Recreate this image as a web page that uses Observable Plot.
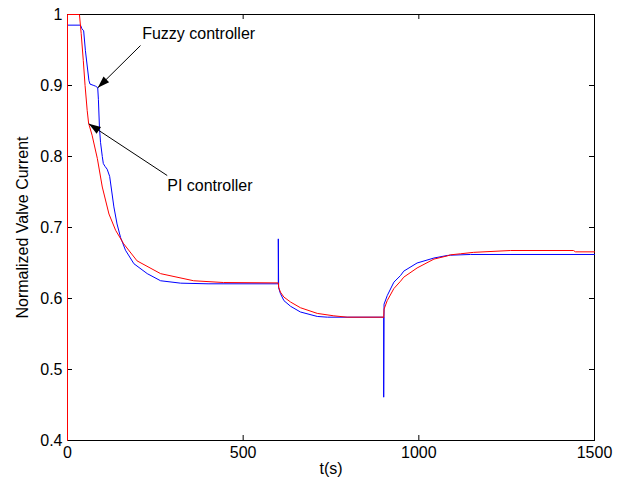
<!DOCTYPE html>
<html><head><meta charset="utf-8">
<script src="https://cdn.jsdelivr.net/npm/d3@7"></script>
<script src="https://cdn.jsdelivr.net/npm/@observablehq/plot@0.6"></script>
<style>body{margin:0;background:#fff;}</style>
</head><body><div id="chart"></div>
<script>
// PI controller (red)
const piT = [0, 0, 34, 39, 45, 50, 56, 60, 70, 85, 99, 118, 137, 160, 198, 265, 359, 444, 599,
  600, 601, 606, 616, 635, 663, 711, 758, 796, 900,
  900, 901, 910, 929, 948, 957, 995, 1043, 1081, 1090, 1119, 1156, 1261, 1440, 1446, 1500];
const piV = [0.4, 1.0, 1.0, 0.973, 0.935, 0.9, 0.865, 0.847, 0.83, 0.797, 0.757, 0.719, 0.696, 0.677, 0.653, 0.635, 0.625, 0.6225, 0.622,
  0.622, 0.616, 0.609, 0.602, 0.595, 0.587, 0.579, 0.5756, 0.5737, 0.5737,
  0.573, 0.585, 0.597, 0.614, 0.6244, 0.63, 0.643, 0.6555, 0.66, 0.6615, 0.663, 0.665, 0.6676, 0.6676, 0.6657, 0.6657];
// Fuzzy controller (blue)
const fuzzyT = [0, 37, 41, 46, 51, 61, 64, 75, 80, 86, 88, 91, 94, 99, 102, 107, 113, 120, 132, 141, 151, 165, 189, 227, 265, 322, 400, 599,
  600, 600, 601, 606, 616, 635, 663, 711, 740, 900,
  900, 901, 910, 929, 948, 957, 995, 1043, 1081, 1090, 1147, 1500];
const fuzzyV = [0.985, 0.985, 0.98, 0.977, 0.949, 0.907, 0.902, 0.9, 0.899, 0.897, 0.88, 0.84, 0.82, 0.8, 0.79, 0.786, 0.782, 0.772, 0.729, 0.705, 0.686, 0.668, 0.649, 0.635, 0.625, 0.6216, 0.6207, 0.6207,
  0.6207, 0.684, 0.615, 0.607, 0.597, 0.589, 0.581, 0.5747, 0.5737, 0.5737,
  0.461, 0.592, 0.604, 0.623, 0.6324, 0.6385, 0.650, 0.657, 0.6606, 0.661, 0.662, 0.662];

const xTicks = [0, 500, 1000, 1500];
const yTicks = [0.4, 0.5, 0.6, 0.7, 0.8, 0.9, 1];
const xLabel = "t(s)";
const yLabel = "Normalized Valve Current";

// annotations: label position, arrow tail, arrow tip (data units)
const annLabels = ["Fuzzy controller", "PI controller"];
const annTextT = [212.6, 283.8];
const annTextV = [0.9728, 0.759];
const annTailT = [207.8, 283.8];
const annTailV = [0.9563, 0.7732];
const annTipT = [86.2, 60.6];
const annTipV = [0.8968, 0.846];

const W = 622, H = 486, ml = 67, mr = 28, mt = 14, mb = 46;
const iw = W - ml - mr, ih = H - mt - mb, tick = 5;
const xs = d3.scaleLinear([0, 1500], [ml, W - mr]);
const ys = d3.scaleLinear([0.4, 1], [H - mb, mt]);

const pi = piT.map((t, i) => ({t, v: piV[i]}));
const fuzzy = fuzzyT.map((t, i) => ({t, v: fuzzyV[i]}));
const ann = annLabels.map((label, i) => {
  const dx = xs(annTipT[i]) - xs(annTailT[i]);
  const dy = ys(annTipV[i]) - ys(annTailV[i]);
  const rot = Math.atan2(dx, -dy) * 180 / Math.PI;
  return {label, tx: annTextT[i], ty: annTextV[i], x1: annTailT[i], y1: annTailV[i], x2: annTipT[i], y2: annTipV[i], rot};
});

const arrowHead = {draw(ctx) { ctx.moveTo(0, 0); ctx.lineTo(-4, 12); ctx.lineTo(4, 12); ctx.closePath(); }};
const font = "'Liberation Sans', Arial, Helvetica, sans-serif";

const chart = Plot.plot({
  width: W, height: H, marginLeft: ml, marginRight: mr, marginTop: mt, marginBottom: mb,
  style: {fontFamily: font, fontSize: "16px", background: "#fff", color: "#000"},
  x: {domain: [0, 1500], ticks: xTicks, tickFormat: d => String(d), tickSize: 0, tickPadding: 6, label: null},
  y: {domain: [0.4, 1], ticks: yTicks, tickFormat: d => String(d), tickSize: 0, tickPadding: 5, label: null},
  marks: [
    Plot.ruleX(xTicks, {stroke: "#000", insetTop: ih - tick}),
    Plot.ruleX(xTicks, {stroke: "#000", insetBottom: ih - tick}),
    Plot.ruleY(yTicks, {stroke: "#000", insetRight: iw - tick}),
    Plot.ruleY(yTicks, {stroke: "#000", insetLeft: iw - tick}),
    Plot.frame({stroke: "#000"}),
    Plot.line(fuzzy, {x: "t", y: "v", stroke: "#0000ff", strokeWidth: 1}),
    Plot.line(pi, {x: "t", y: "v", stroke: "#ff0000", strokeWidth: 1}),
    Plot.link(ann, {x1: "x1", y1: "y1", x2: "x2", y2: "y2", stroke: "#000", strokeWidth: 1}),
    Plot.dot(ann, {x: "x2", y: "y2", symbol: arrowHead, rotate: "rot", fill: "#000", stroke: "none"}),
    Plot.text(ann, {x: "tx", y: "ty", text: "label", textAnchor: "start", fontSize: 16}),
    Plot.text([xLabel], {frameAnchor: "bottom", textAnchor: "middle", lineAnchor: "middle", dy: 28, text: d => d, fontSize: 16}),
    Plot.text([yLabel], {frameAnchor: "left", textAnchor: "middle", lineAnchor: "middle", dx: -45, rotate: -90, text: d => d, fontSize: 16})
  ]
});
document.getElementById("chart").appendChild(chart);
</script>
</body></html>
